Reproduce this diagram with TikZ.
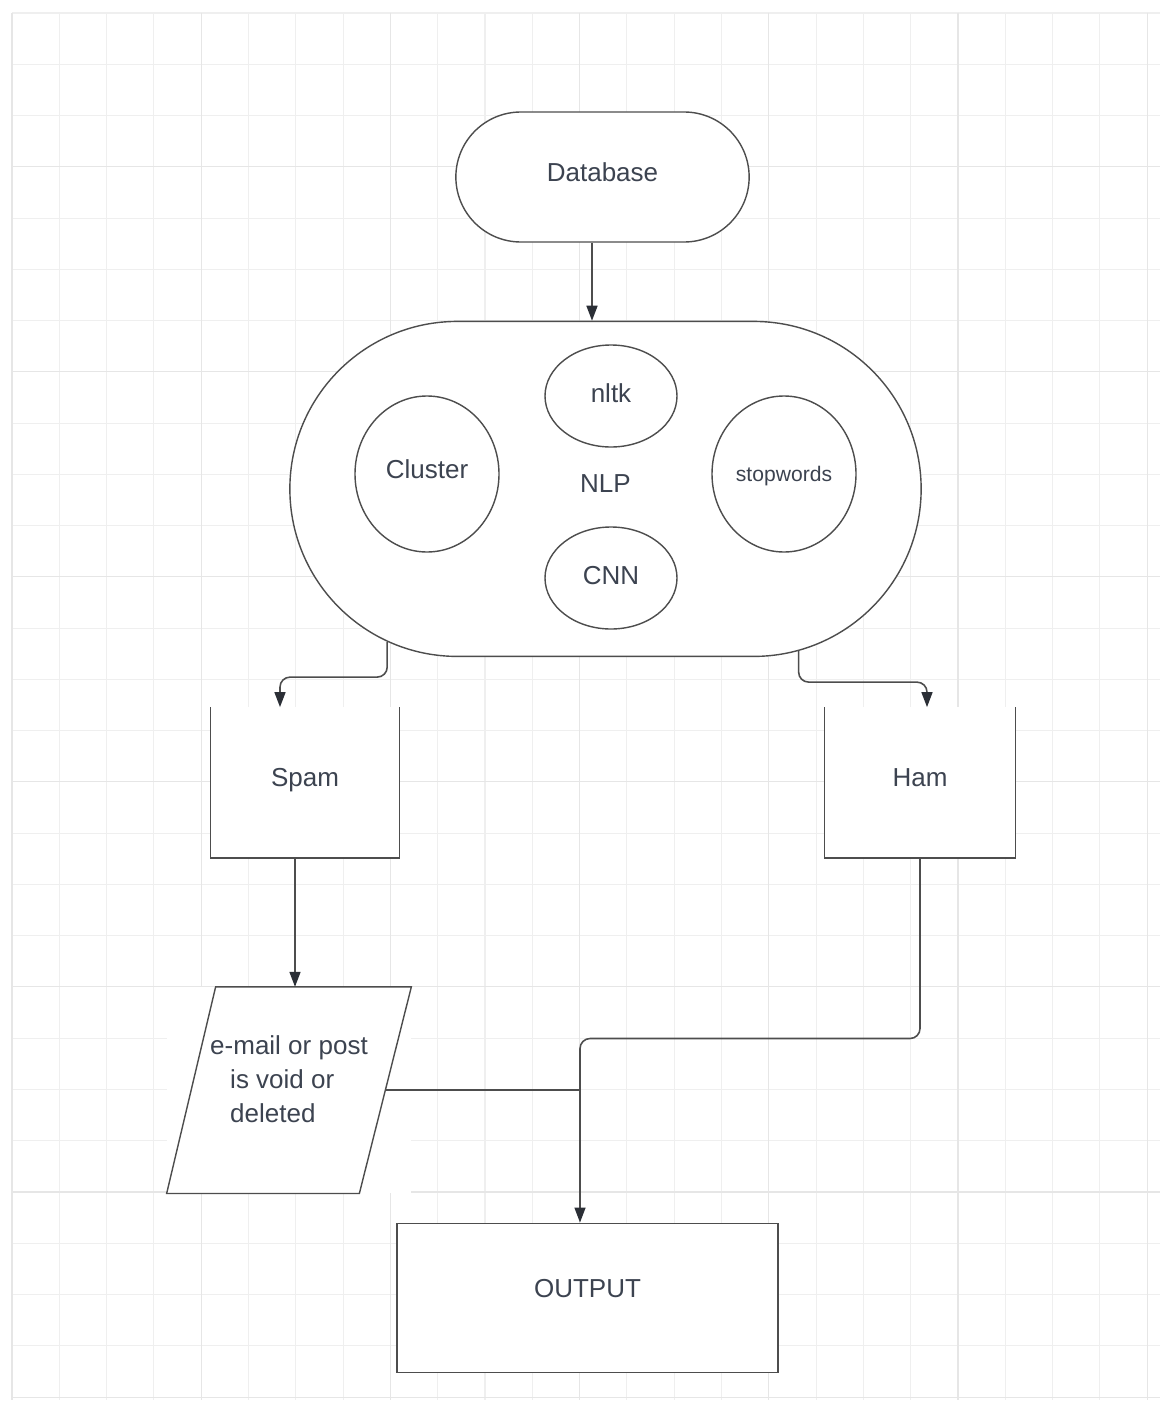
\documentclass[tikz,border=0pt]{standalone}
\usepackage{fontspec}
\setmainfont{Liberation Sans}
\usepackage{tikz}
\usetikzlibrary{positioning}
\usetikzlibrary{shapes.misc,shapes.geometric,arrows.meta}
\definecolor{inkgray}{HTML}{3C4350}
\definecolor{edgegray}{HTML}{4D4D4D}
\definecolor{tipdark}{HTML}{2B2F36}
\definecolor{gridlight}{HTML}{EFEFEF}
\definecolor{griddark}{HTML}{E6E6E6}
\tikzstyle{flow edge}=[->,draw=edgegray,line width=0.9pt,rounded corners=0.2cm]
\tikzstyle{flow line}=[draw=edgegray,line width=0.9pt]
\tikzstyle{shape line}=[draw=edgegray,line width=0.8pt]
\tikzstyle{grid line}=[draw=gridlight,line width=0.6pt]
\tikzstyle{flow text}=[text=inkgray,font=\fontsize{14.8}{19.3}\selectfont,text depth=0.2cm]
\newcommand{\flownode}[3][]{
  \node [flow text, fill=white, #1] (#2) {#3}
}
\newcommand{\openbox}[1]{
  \draw [shape line] (#1.north west) -- (#1.south west) -- (#1.south east) -- (#1.north east)
}

\begin{document}
\begin{tikzpicture}[node distance=1cm, >={Triangle[length=3mm,width=2.2mm,color=tipdark]}]
        \useasboundingbox[fill=white] (0,0) rectangle (23.3,-28.06);
        \foreach \k in {0,...,24}
            \draw[grid line] ({0.24+0.946*\k},-0.26) -- ++(0,-27.74);
        \foreach \k in {0,...,27}
            \draw[grid line] (0.24,{-0.26-1.0252*\k}) -- ++(22.96,0);
        \foreach \k in {0,4,...,24}
            \draw[grid line,draw=griddark] ({0.24+0.946*\k},-0.26) -- ++(0,-27.74);
        \foreach \k in {3,7,...,27}
            \draw[grid line,draw=griddark] (0.24,{-0.26-1.0252*\k}) -- ++(22.96,0);

        \flownode[rounded rectangle, shape line, minimum width=6.1cm, minimum height=2.6cm, at={(12.05,-3.54)}]{database}{Database};
        \flownode[rounded rectangle, shape line, minimum width=12.86cm, minimum height=6.7cm, below=1.56cm of database, xshift=0.06cm]{nlp}{NLP};
                \flownode[ellipse, shape line, inner sep=0pt, minimum width=2.64cm, minimum height=2.04cm, at={(12.22,-7.92)}, text depth=0.1cm]{nltk}{nltk};
                \flownode[ellipse, shape line, inner sep=0pt, minimum width=2.64cm, minimum height=2.04cm, at={(12.22,-11.56)}, text depth=0.1cm]{cnn}{CNN};
                \flownode[ellipse, shape line, inner sep=0pt, minimum width=2.88cm, minimum height=3.12cm, at={(8.54,-9.48)}]{cluster}{Cluster};
                \flownode[ellipse, shape line, inner sep=0pt, minimum width=2.88cm, minimum height=3.12cm, at={(15.68,-9.48)}, font=\fontsize{12}{14}\selectfont, text depth=0cm]{stopwords}{stopwords};
        \flownode[minimum width=3.76cm, minimum height=3cm, below=1cm of nlp, xshift=-6.01cm]{spam}{Spam};
        \flownode[minimum width=3.8cm, minimum height=3cm, below=1cm of nlp, xshift=6.29cm]{ham}{Ham};
        \flownode[minimum width=4.88cm, minimum height=4.12cm, below=2.58cm of spam, xshift=-0.32cm, align=left, text depth=0.45cm]{void}{e-mail or post\\\hspace*{0.4cm}is void or\\\hspace*{0.4cm}deleted};
        \flownode[shape line, minimum width=7.62cm, minimum height=2.98cm, below=0.58cm of void, xshift=5.97cm, text depth=0.36cm]{output}{OUTPUT};

        \openbox{spam};
        \openbox{ham};
        \draw[shape line] ([xshift=0.98cm]void.north west) -- (void.north east) -- ([xshift=-1.04cm]void.south east) -- (void.south west) -- cycle;

        \coordinate (dbout) at ([xshift=-0.21cm]database.south);
        \coordinate (spamout) at ([xshift=-0.2cm]spam.south);
        \coordinate (drop) at ([xshift=-0.15cm]output.north);
        \coordinate (merge) at (drop |- void.east);

            \draw[flow edge] (dbout) -- (dbout |- nlp.north);
            \draw[flow edge] (nlp.215) |- ([xshift=-0.5cm,yshift=0.6cm]spam.north) -- ([xshift=-0.5cm]spam.north);
            \draw[flow edge] (nlp.-40) |- ([xshift=0.14cm,yshift=0.5cm]ham.north) -- ([xshift=0.14cm]ham.north);
            \draw[flow edge] (spamout) -- (spamout |- void.north);
            \draw[flow edge] (ham.south) |- ([yshift=3.68cm]drop) -- (drop);
            \draw[flow line] ([xshift=-0.52cm]void.east) -- (merge);
\end{tikzpicture}
\end{document}
